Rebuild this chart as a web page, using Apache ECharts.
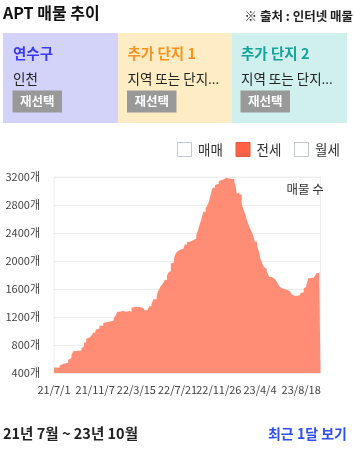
<!DOCTYPE html>
<html>
<head>
<meta charset="utf-8">
<script src="https://cdn.jsdelivr.net/npm/echarts@6/dist/echarts.min.js"></script>
<style>
html,body{margin:0;padding:0;background:#fff;}
#chart{width:355px;height:449px;}
</style>
</head>
<body>
<div id="chart"></div>
<script>
// ---- data ----
const tickLabels = ['21/7/1','21/11/7','22/3/15','22/7/21','22/11/26','23/4/4','23/8/18'];
const tickStep = 128; // days between labelled ticks
const dayIndex = [0,10,17,23,29,44,48,54,60,66,85,89,93,100,106,112,118,122,129,135,141,145,153,158,166,185,191,197,205,214,218,224,234,241,247,253,259,265,276,282,290,296,303,309,319,323,328,332,338,344,351,355,359,363,367,373,377,382,386,390,402,406,413,423,429,435,442,446,452,458,464,471,477,481,485,489,493,500,506,512,518,525,531,535,539,543,560,564,568,572,576,583,587,591,595,599,603,608,614,620,624,631,637,641,645,649,653,657,661,665,669,676,682,686,692,697,701,705,709,713,726,730,734,738,744,748,753,757,761,765,771,776,780,784,790,794,807,811,815,819,824,828];
const jeonseCount = [480,475,505,533,547,590,610,657,710,723,752,780,837,890,909,923,947,980,1019,1037,1080,1076,1114,1128,1147,1176,1219,1274,1290,1266,1276,1286,1276,1333,1347,1361,1343,1333,1309,1295,1323,1352,1390,1452,1504,1561,1609,1643,1676,1729,1790,1833,1857,1966,1980,2047,2094,2133,2157,2176,2204,2237,2276,2261,2304,2323,2371,2419,2514,2600,2704,2751,2800,2847,2914,2990,3047,3086,3104,3143,3161,3180,3190,3204,3180,3171,3133,3076,2961,2980,2951,2823,2761,2704,2657,2586,2537,2476,2419,2347,2276,2204,2133,2037,1990,1943,1914,1886,1847,1809,1771,1761,1743,1723,1704,1666,1633,1609,1600,1586,1576,1561,1552,1523,1504,1476,1504,1495,1514,1543,1552,1609,1628,1657,1752,1761,1743,1790,1823,1837,1823,1823];
const legendNames = ['매매','전세','월세'];
const cardTitles = ['연수구','추가 단지 1','추가 단지 2'];
const cardSubs = ['인천','지역 또는 단지...','지역 또는 단지...'];

const FF = '"Noto Sans CJK KR", "Noto Sans", sans-serif';
const seriesData = dayIndex.map((d, i) => [d, jeonseCount[i]]);

const cardColors = ['#D3D3FA','#FEEDC4','#D0F0EE'];
const cardTitleColors = ['#3A3AF2','#F7931E','#14A39A'];
const cardX = [3, 118, 232];
const cardW = [115, 114, 115];
const textX = [13, 127.5, 241];

const graphics = [];
graphics.push({type:'text', style:{x:3, y:13, text:'APT 매물 추이', font:'bold 16px ' + FF, fill:'#111', verticalAlign:'middle'}});
graphics.push({type:'text', style:{x:353, y:16, text:'※ 출처 : 인터넷 매물', font:'bold 12.5px ' + FF, fill:'#222', align:'right', verticalAlign:'middle'}});
for (let i = 0; i < 3; i++) {
  graphics.push({type:'rect', shape:{x:cardX[i], y:33, width:cardW[i], height:90}, style:{fill:cardColors[i]}});
  graphics.push({type:'text', style:{x:textX[i], y:53, text:cardTitles[i], font:'bold 14.5px ' + FF, fill:cardTitleColors[i], verticalAlign:'middle'}});
  graphics.push({type:'text', style:{x:textX[i], y:79, text:cardSubs[i], font:'13.5px ' + FF, fill:'#222', verticalAlign:'middle'}});
  graphics.push({type:'rect', shape:{x:textX[i]-0.5, y:90.5, width:49.5, height:22}, style:{fill:'#999999'}});
  graphics.push({type:'text', style:{x:textX[i]+24.3, y:101.7, text:'재선택', font:'bold 12.5px ' + FF, fill:'#fff', align:'center', verticalAlign:'middle'}});
}
// legend (checkbox style)
const legBoxX = [177.5, 236, 294.5];
const legTextX = [198, 256.5, 315];
for (let i = 0; i < 3; i++) {
  const on = legendNames[i] === '전세';
  graphics.push({type:'rect', shape:{x:legBoxX[i], y:142.5, width:14, height:14}, style:{fill: on ? '#FF6347' : '#fff', stroke: on ? '#E9573B' : '#C3C7CF', lineWidth:1}});
  graphics.push({type:'text', style:{x:legTextX[i], y:150, text:legendNames[i], font:'13.5px ' + FF, fill:'#333', verticalAlign:'middle'}});
}
graphics.push({type:'text', z:100, style:{x:286.5, y:189.5, text:'매물 수', font:'12.5px ' + FF, fill:'#333', verticalAlign:'middle'}});
// footer
graphics.push({type:'text', style:{x:3, y:433.5, text:'21년 7월 ~ 23년 10월', font:'bold 14.5px ' + FF, fill:'#222', verticalAlign:'middle'}});
graphics.push({type:'text', style:{x:347, y:433.5, text:'최근 1달 보기', font:'bold 14px ' + FF, fill:'#2F4FF0', align:'right', verticalAlign:'middle'}});

const chart = echarts.init(document.getElementById('chart'), null, {renderer:'canvas'});
chart.setOption({
  animation:false,
  backgroundColor:'#fff',
  textStyle:{fontFamily:FF},
  graphic: graphics,
  grid:{left:54, top:177, width:266.5, height:196, show:true, borderColor:'#eeeeee', borderWidth:1, backgroundColor:'transparent'},
  xAxis:{
    type:'value', min:0, max:828, interval:tickStep,
    axisLine:{show:false}, axisTick:{show:false}, splitLine:{show:false},
    axisLabel:{
      margin:11, fontSize:11, color:'#444', fontFamily:FF, showMaxLabel:false,
      formatter:(v) => { const k = Math.round(v / tickStep); return (v % tickStep === 0 && tickLabels[k]) ? tickLabels[k] : ''; }
    }
  },
  yAxis:{
    type:'value', min:400, max:3200, interval:400,
    axisLine:{show:false}, axisTick:{show:false},
    splitLine:{lineStyle:{color:'#eeeeee', width:1}},
    axisLabel:{margin:14, fontSize:11, color:'#444', fontFamily:FF, formatter:(v) => v + '개'}
  },
  series:[{
    name:'전세', type:'line', step:'end', data:seriesData,
    showSymbol:false, symbol:'none',
    lineStyle:{width:0},
    areaStyle:{color:'#FF8C74', opacity:1, origin:'start'}
  }]
});
</script>
</body>
</html>
